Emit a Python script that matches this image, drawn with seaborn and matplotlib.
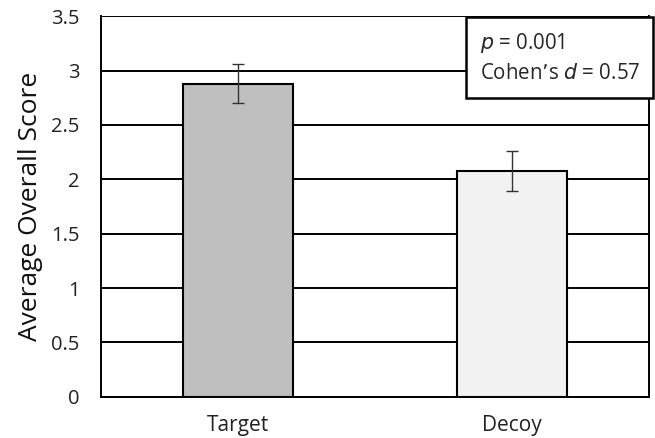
import numpy as np
import pandas as pd
import matplotlib.pyplot as plt
import seaborn as sns
from matplotlib.ticker import FixedLocator

conditions = ["Target", "Decoy"]
scores = [2.88, 2.08]
errors = [0.18, 0.185]
bar_colors = ["#bfbfbf", "#f2f2f2"]
ytick_labels = ["0", "0.5", "1", "1.5", "2", "2.5", "3", "3.5"]

df = pd.DataFrame({"condition": conditions, "score": scores})

sns.set_style("white")
plt.rcParams['font.family'] = ['Open Sans', 'DejaVu Sans']

fig = plt.figure(figsize=(6.55, 4.38), dpi=100)
ax = fig.add_axes([0.154, 0.094, 0.837, 0.869])

sns.barplot(data=df, x="condition", y="score", hue="condition",
            palette=bar_colors, width=0.40, edgecolor="black", linewidth=1.5,
            errorbar=None, legend=False, ax=ax, zorder=3)
ax.errorbar(range(len(conditions)), scores, yerr=errors, fmt="none",
            ecolor="#333333", elinewidth=1, capsize=4, capthick=1, zorder=4)

ax.set_xlim(-0.5, 1.5)
ax.set_ylim(0, 3.5)
ax.set_yticks(np.arange(0, 3.51, 0.5))
ax.set_yticklabels(ytick_labels)
ax.yaxis.grid(True, color="black", linewidth=1.4)
ax.set_axisbelow(True)

ax.xaxis.set_minor_locator(FixedLocator([-0.5, 0.5, 1.5]))
ax.tick_params(axis="x", which="major", length=0, labelsize=15, pad=13, labelcolor="#222222")
ax.tick_params(axis="x", which="minor", length=5, width=1.4, color="black", direction="out")
ax.tick_params(axis="y", length=4.5, width=1.4, color="black", direction="out",
               labelsize=14.5, pad=11, labelcolor="#222222")

for s in ax.spines.values():
    s.set_color("black")
    s.set_linewidth(1.4)
ax.spines["top"].set_visible(False)

ax.set_xlabel("")
ax.set_ylabel("Average Overall Score", fontsize=19, labelpad=6, color="#111111")

# stats box pinned to the top-right corner of the plot area
ax.text(1 - 9 / 548, 1 - 15 / 381, "$p$ = 0.001\nCohen\u2019s $d$ = 0.57", transform=ax.transAxes,
        ha="right", va="top", multialignment="left", fontsize=14.8, linespacing=1.5,
        bbox=dict(boxstyle="square,pad=0.65", facecolor="white", edgecolor="black", linewidth=1.8),
        zorder=5)

plt.savefig("out.png", dpi=100)
plt.close()
